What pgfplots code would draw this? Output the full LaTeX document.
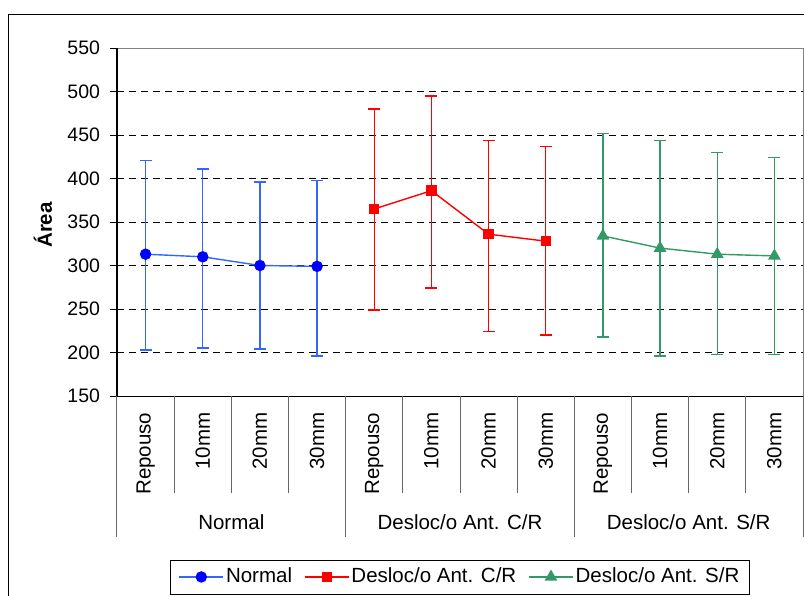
\documentclass[border=0pt]{standalone}
\usepackage{fontspec}
\setmainfont{Liberation Sans}
\usepackage{pgfplots}
\pgfplotsset{compat=1.18}
\usepackage{pgfplotstable}
\definecolor{nblue}{RGB}{51,102,255}
\definecolor{sgreen}{RGB}{51,153,102}

\pgfplotstableread{
x y up lo
0 313 421 203
1 310 411 205
2 300 396 204
3 299 398 196
}\normaltab
\pgfplotstableread{
x y up lo
4 365 480 249
5 386 495 274
6 336 444 224
7 328 437 220
}\crtab
\pgfplotstableread{
x y up lo
8 334 452 218
9 320 444 196
10 313 430 198
11 311 424 198
}\srtab

\begin{document}
\fontsize{20.5}{24}\selectfont
\begin{tikzpicture}
\useasboundingbox (-117pt,-199pt) rectangle (687pt,396pt);
\begin{axis}[
 scale only axis, width=686pt, height=348pt,
 xmin=-0.5, xmax=11.5, ymin=150, ymax=550,
 xtick=\empty, ytick={150,200,...,550},
 ytick pos=left, tick align=outside, major tick length=7pt,
 tick style={black, line width=0.8pt},
 ymajorgrids, major grid style={black, dash pattern=on 7pt off 5pt, line width=0.8pt},
 axis line style={draw=gray, line width=1pt},
 yticklabel style={font=\fontsize{19.5}{23}\selectfont, xshift=-3pt},
 /pgf/number format/assume math mode=true,
 clip=false,
 legend columns=3,
 legend style={at={(0.5,-0.52)}, anchor=center, draw=black, line width=0.8pt,
   font=\fontsize{20.5}{24}\selectfont, inner xsep=8pt, inner ysep=6pt,
   /tikz/every even column/.append style={column sep=10pt}},
 legend image code/.code={\draw[mark repeat=2, mark phase=2, #1] plot coordinates {(0pt,0pt) (22pt,0pt) (44pt,0pt)};},
]
\addplot[nblue, line width=1.4pt, mark=*, mark size=5pt, mark options={fill=blue, draw=blue},
  error bars/.cd, y dir=both, y explicit,
  error bar style={nblue, line width=1.4pt},
  error mark options={rotate=90, mark size=6pt, nblue, line width=1.4pt}]
  table[x=x, y=y, y error plus expr=\thisrow{up}-\thisrow{y}, y error minus expr=\thisrow{y}-\thisrow{lo}] {\normaltab};
\addlegendentry{Normal}
\addplot[red, line width=1.4pt, mark=square*, mark size=4.5pt, mark options={fill=red, draw=red},
  error bars/.cd, y dir=both, y explicit,
  error bar style={red, line width=1.4pt},
  error mark options={rotate=90, mark size=6pt, red, line width=1.4pt}]
  table[x=x, y=y, y error plus expr=\thisrow{up}-\thisrow{y}, y error minus expr=\thisrow{y}-\thisrow{lo}] {\crtab};
\addlegendentry{Desloc/o Ant. C/R}
\addplot[sgreen, line width=1.4pt, mark=triangle*, mark size=6pt, mark options={fill=sgreen, draw=sgreen},
  error bars/.cd, y dir=both, y explicit,
  error bar style={sgreen, line width=1.4pt},
  error mark options={rotate=90, mark size=6pt, sgreen, line width=1.4pt}]
  table[x=x, y=y, y error plus expr=\thisrow{up}-\thisrow{y}, y error minus expr=\thisrow{y}-\thisrow{lo}] {\srtab};
\addlegendentry{Desloc/o Ant. S/R}
\end{axis}
% axis lines
\draw[black, line width=1.6pt] (0,0) -- (0,348pt);
\draw[black, line width=1pt] (0,0) -- (686pt,0);
% separators
\foreach \i in {1,2,3,5,6,7,9,10,11}
  \draw[gray!80!black, line width=1pt] ({\i*686/12*1pt},0) -- ({\i*686/12*1pt},-97pt);
\foreach \i in {0,4,8,12}
  \draw[gray!80!black, line width=1pt] ({\i*686/12*1pt},0) -- ({\i*686/12*1pt},-141pt);
% category labels
\foreach \i/\lab in {0/Repouso,1/10mm,2/20mm,3/30mm,4/Repouso,5/10mm,6/20mm,7/30mm,8/Repouso,9/10mm,10/20mm,11/30mm}
  \node[rotate=90, anchor=east, inner sep=0pt] at ({(\i+0.5)*686/12*1pt}, -16.5pt) {\lab};
\node at ({2*686/12*1pt}, -125.7pt) {Normal};
\node at ({6*686/12*1pt}, -125.7pt) {Desloc/o Ant. C/R};
\node at ({10*686/12*1pt}, -125.7pt) {Desloc/o Ant. S/R};
% y label
\node[rotate=90, font=\bfseries] at (-74pt,171pt) {Área};
% outer border
\draw[black, line width=1pt] (-108pt,-260pt) -- (-108pt,381pt) -- (800pt,381pt);
\end{tikzpicture}
\end{document}
